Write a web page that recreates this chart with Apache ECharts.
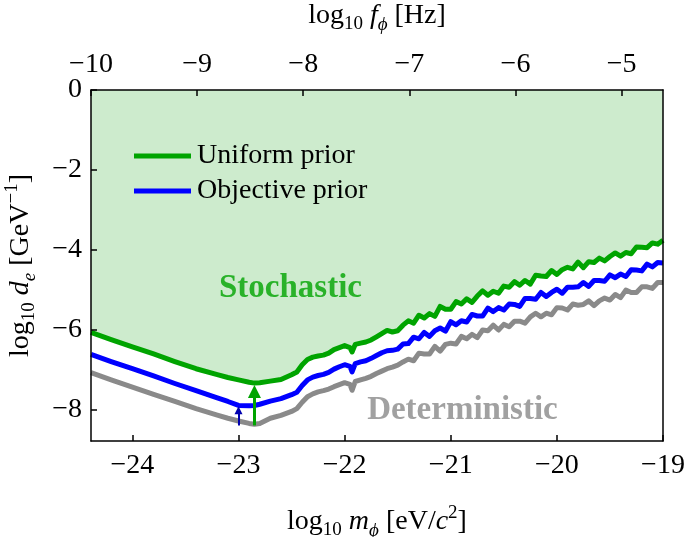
<!DOCTYPE html>
<html><head><meta charset="utf-8">
<script src="https://cdn.jsdelivr.net/npm/echarts@6/dist/echarts.min.js"></script>
<style>html,body{margin:0;padding:0;background:#fff}#c{width:685px;height:537px}</style>
</head><body><div id="c"></div>
<script>
// log10 m_phi [eV/c^2]
const logMass = [-24.39,-24.2,-24.0,-23.8,-23.6,-23.4,-23.2,-23.1,-23.0,-22.9,-22.85,-22.8,-22.7,-22.6,-22.5,-22.45,-22.4,-22.35,-22.3,-22.25,-22.2,-22.15,-22.1,-22.05,-22.0,-21.95,-21.93,-21.9,-21.85,-21.8,-21.75,-21.7,-21.65,-21.6,-21.55,-21.5,-21.45,
  -21.40,-21.35,-21.30,-21.25,-21.20,-21.15,-21.10,-21.05,-21.00,-20.95,-20.90,-20.85,-20.80,-20.75,-20.70,-20.65,-20.60,-20.55,-20.50,-20.45,-20.40,-20.35,-20.30,-20.25,-20.20,-20.15,-20.10,-20.05,-20.00,-19.95,-19.90,-19.85,-19.80,-19.75,-19.70,-19.65,-19.60,-19.55,-19.50,-19.45,-19.40,-19.35,-19.30,-19.25,-19.20,-19.15,-19.10,-19.05,-19.00];
// log10 d_e [GeV^-1]
const uniformPrior = [-6.07,-6.25,-6.43,-6.61,-6.80,-6.98,-7.13,-7.20,-7.26,-7.32,-7.34,-7.33,-7.29,-7.25,-7.13,-7.06,-6.88,-6.75,-6.69,-6.66,-6.64,-6.59,-6.50,-6.45,-6.40,-6.45,-6.56,-6.37,-6.34,-6.31,-6.26,-6.18,-6.10,-6.02,-6.06,-6.03,-5.89,
  -5.78,-5.84,-5.64,-5.71,-5.60,-5.67,-5.42,-5.49,-5.49,-5.30,-5.36,-5.23,-5.32,-5.16,-5.03,-5.14,-5.04,-5.09,-4.91,-4.94,-4.80,-4.89,-4.77,-4.86,-4.64,-4.66,-4.67,-4.52,-4.62,-4.50,-4.44,-4.48,-4.31,-4.45,-4.30,-4.32,-4.21,-4.28,-4.17,-4.08,-4.16,-4.07,-4.10,-3.93,-3.94,-3.95,-3.83,-3.86,-3.76];
const objectivePrior = [-6.62,-6.80,-6.98,-7.16,-7.35,-7.53,-7.71,-7.80,-7.90,-7.91,-7.90,-7.87,-7.79,-7.73,-7.63,-7.57,-7.40,-7.26,-7.19,-7.15,-7.12,-7.07,-6.99,-6.93,-6.88,-6.92,-7.06,-6.85,-6.81,-6.78,-6.72,-6.65,-6.58,-6.53,-6.52,-6.49,-6.36,
  -6.35,-6.19,-6.23,-6.07,-6.17,-6.03,-5.96,-6.04,-5.80,-5.88,-5.78,-5.81,-5.62,-5.66,-5.66,-5.46,-5.55,-5.45,-5.51,-5.36,-5.37,-5.42,-5.22,-5.22,-5.24,-5.07,-5.17,-5.07,-4.99,-5.09,-4.94,-4.94,-4.93,-4.82,-4.92,-4.77,-4.77,-4.79,-4.63,-4.70,-4.61,-4.67,-4.50,-4.51,-4.53,-4.36,-4.43,-4.32,-4.33];
const deterministicBound = [-7.08,-7.26,-7.44,-7.62,-7.80,-7.98,-8.14,-8.22,-8.29,-8.35,-8.37,-8.35,-8.22,-8.15,-8.05,-7.98,-7.82,-7.68,-7.61,-7.56,-7.53,-7.49,-7.43,-7.38,-7.33,-7.37,-7.52,-7.30,-7.26,-7.22,-7.17,-7.10,-7.04,-6.98,-6.94,-6.89,-6.81,
  -6.74,-6.78,-6.59,-6.61,-6.61,-6.42,-6.54,-6.37,-6.34,-6.36,-6.17,-6.23,-6.12,-6.20,-6.01,-6.03,-5.89,-6.01,-5.87,-5.93,-5.79,-5.79,-5.84,-5.68,-5.59,-5.68,-5.59,-5.63,-5.45,-5.46,-5.51,-5.36,-5.39,-5.37,-5.28,-5.40,-5.28,-5.21,-5.26,-5.12,-5.20,-5.01,-5.07,-5.07,-4.93,-4.93,-4.97,-4.82,-4.82];

const massTicks = [-24,-23,-22,-21,-20,-19];
const freqTicks = [-10,-9,-8,-7,-6,-5];
const couplingTicks = [0,-2,-4,-6,-8];
const greenArrow = [[-22.85,-8.40],[-22.85,-7.55]];
const blueArrow = [[-23.0,-8.40],[-23.0,-8.02]];
const regionNames = ['Stochastic','Deterministic'];
const regionPos = [[-22.51,-4.97],[-20.89,-8.02]];

const FONT = 'Liberation Serif, Times New Roman, serif';
const GREEN = '#00a400', BLUE = '#0000ff', GRAY = '#8a8a8a';
const fmt = v => (Number.isInteger(v) ? String(v).replace('-', '\u2212') : '');
const pairs = ys => logMass.map((x, i) => [x, ys[i]]);
const rich = {
  t: {fontSize: 28, fontFamily: FONT, lineHeight: 36, color: '#000'},
  i: {fontSize: 28, fontFamily: FONT, fontStyle: 'italic', lineHeight: 36, color: '#000'},
  s: {fontSize: 19, fontFamily: FONT, verticalAlign: 'bottom', lineHeight: 20, color: '#000'},
  si: {fontSize: 19, fontFamily: FONT, fontStyle: 'italic', verticalAlign: 'bottom', lineHeight: 20, color: '#000'},
  sup: {fontSize: 19, fontFamily: FONT, verticalAlign: 'top', lineHeight: 20, color: '#000'}
};
const axisCommon = {
  axisLine: {show: true, onZero: false, lineStyle: {color: '#000', width: 1.5}},
  axisTick: {inside: true, length: 6, lineStyle: {color: '#000', width: 1.5}},
  axisLabel: {fontFamily: FONT, fontSize: 28, color: '#000', formatter: fmt},
  splitLine: {show: false},
  z: 10
};

const chart = echarts.init(document.getElementById('c'), null, {renderer: 'canvas'});
chart.setOption({
  animation: false,
  grid: {left: 91, right: 22, top: 90, bottom: 96, containLabel: false, outerBoundsMode: 'none'},
  legend: {
    data: ['Uniform prior', 'Objective prior'],
    orient: 'vertical', left: 134, top: 142, padding: 0,
    icon: 'rect', itemWidth: 57, itemHeight: 5, itemGap: 7,
    textStyle: {fontFamily: FONT, fontSize: 28, color: '#000', padding: [0, 0, 0, 1]}
  },
  xAxis: [
    Object.assign({}, axisCommon, {
      type: 'value', position: 'bottom', min: -24.39, max: -19,
      axisTick: Object.assign({}, axisCommon.axisTick, {customValues: massTicks}),
      axisLabel: Object.assign({}, axisCommon.axisLabel, {customValues: massTicks, margin: 11}),
      name: '{t|log}{s|10}{t| }{i|m}{si|\u03d5}{t| [eV/}{i|c}{sup|2}{t|]}',
      nameLocation: 'middle', nameGap: 63, nameTextStyle: {rich: rich}
    }),
    Object.assign({}, axisCommon, {
      type: 'value', position: 'top', min: -10, max: -4.61,
      axisTick: Object.assign({}, axisCommon.axisTick, {customValues: freqTicks}),
      axisLabel: Object.assign({}, axisCommon.axisLabel, {customValues: freqTicks, margin: 11}),
      name: '{t|log}{s|10}{t| }{i|f}{si|\u03d5}{t| [Hz]}',
      nameLocation: 'middle', nameGap: 56, nameTextStyle: {rich: rich}
    })
  ],
  yAxis: [
    Object.assign({}, axisCommon, {
      type: 'value', position: 'left', min: -8.79, max: 0,
      axisTick: Object.assign({}, axisCommon.axisTick, {customValues: couplingTicks}),
      axisLabel: Object.assign({}, axisCommon.axisLabel, {customValues: couplingTicks, margin: 9}),
      name: '{t|log}{s|10}{t| }{i|d}{si|e}{t| [GeV}{sup|\u22121}{t|]}',
      nameLocation: 'middle', nameGap: 52, nameTextStyle: {rich: rich}
    }),
    {
      type: 'value', position: 'right', min: -8.79, max: 0, z: 10,
      axisLine: {show: true, lineStyle: {color: '#000', width: 1.5}},
      axisTick: {show: false}, axisLabel: {show: false}, splitLine: {show: false}
    }
  ],
  series: [
    {
      name: 'Uniform prior', type: 'line', data: pairs(uniformPrior), showSymbol: false, symbol: 'none',
      color: GREEN, lineStyle: {color: GREEN, width: 5, join: 'round'},
      areaStyle: {color: '#cdebcd', opacity: 1, origin: 'end'}, z: 3,
      markLine: {
        silent: true, animation: false, symbol: ['none', 'triangle'], symbolSize: 13,
        label: {show: false}, lineStyle: {color: GREEN, width: 3, type: 'solid'},
        data: [[{coord: greenArrow[0]}, {coord: greenArrow[1]}]]
      }
    },
    {
      name: 'Objective prior', type: 'line', data: pairs(objectivePrior), showSymbol: false, symbol: 'none',
      color: BLUE, lineStyle: {color: BLUE, width: 5, join: 'round'}, z: 4,
      markLine: {
        silent: true, animation: false, symbol: ['none', 'triangle'], symbolSize: 8,
        label: {show: false}, lineStyle: {color: '#0000b0', width: 2, type: 'solid'},
        data: [[{coord: blueArrow[0]}, {coord: blueArrow[1]}]]
      }
    },
    {
      name: 'Deterministic bound', type: 'line', data: pairs(deterministicBound), showSymbol: false, symbol: 'none',
      color: GRAY, lineStyle: {color: GRAY, width: 5, join: 'round'}, z: 3
    },
    {
      name: 'labels', type: 'scatter', symbolSize: 0, silent: true, z: 5,
      data: regionNames.map((n, i) => ({
        name: n, value: regionPos[i],
        label: {show: true, position: 'inside', formatter: '{b}', fontFamily: FONT, fontWeight: 'bold',
          fontSize: 33, color: i === 0 ? GREEN : GRAY}
      }))
    }
  ]
});
</script></body></html>
